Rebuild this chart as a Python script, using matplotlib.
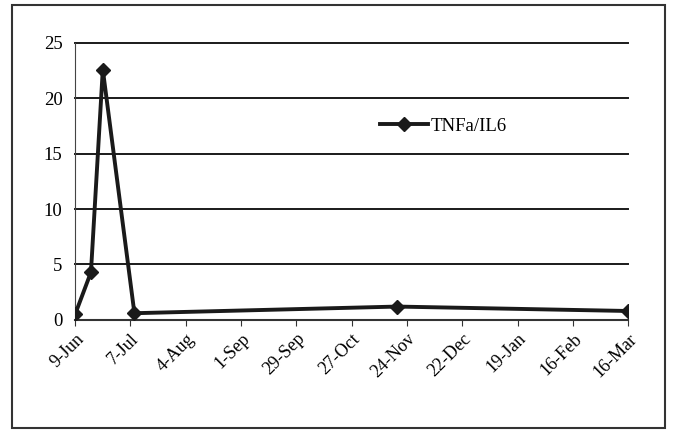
import matplotlib
matplotlib.use("Agg")
import matplotlib.pyplot as plt
import matplotlib.dates as mdates
import pandas as pd
from matplotlib.patches import Rectangle

plt.rcParams['font.family'] = ['Liberation Serif', 'DejaVu Serif']

dates = pd.to_datetime(['2008-06-09', '2008-06-17', '2008-06-23',
                        '2008-07-09', '2008-11-19', '2009-03-16'])
ratio = [0.5, 4.3, 22.6, 0.6, 1.2, 0.8]

tick_dates = pd.date_range('2008-06-09', '2009-03-16', freq='28D')
y_ticks = [0, 5, 10, 15, 20, 25]

fig = plt.figure(figsize=(6.77, 4.34), dpi=100)
fig.patches.append(Rectangle((0.018, 0.014), 0.964, 0.974, transform=fig.transFigure,
                             fill=False, edgecolor='#333333', linewidth=1.5))
ax = fig.add_axes([0.111, 0.263, 0.817, 0.638])

ax.plot(dates, ratio, color='#1a1a1a', linewidth=2.8, marker='D',
        markersize=7, label='TNFa/IL6', zorder=3)

ax.set_xlim(tick_dates[0], tick_dates[-1])
ax.set_ylim(0, 25)
ax.set_yticks(y_ticks)
ax.set_xticks(tick_dates)
ax.xaxis.set_major_formatter(mdates.DateFormatter('%-d-%b'))
for y in y_ticks[1:]:
    ax.axhline(y, color='#1a1a1a', linewidth=1.4, clip_on=False, zorder=1)
for s in ['top', 'right']:
    ax.spines[s].set_visible(False)
ax.spines['left'].set_color('#444444')
ax.spines['bottom'].set_color('#333333')
ax.spines['bottom'].set_linewidth(1.5)
ax.tick_params(axis='y', length=0, labelsize=13.5, pad=9)
ax.tick_params(axis='x', length=4, labelsize=13, color='#333333')
plt.setp(ax.get_xticklabels(), rotation=45, ha='right', rotation_mode='anchor')

ax.legend(loc='center left', bbox_to_anchor=(0.52, 0.70), frameon=False,
          fontsize=13.5, handlelength=2.6, handletextpad=0.1)

fig.savefig('out.png', dpi=100)
